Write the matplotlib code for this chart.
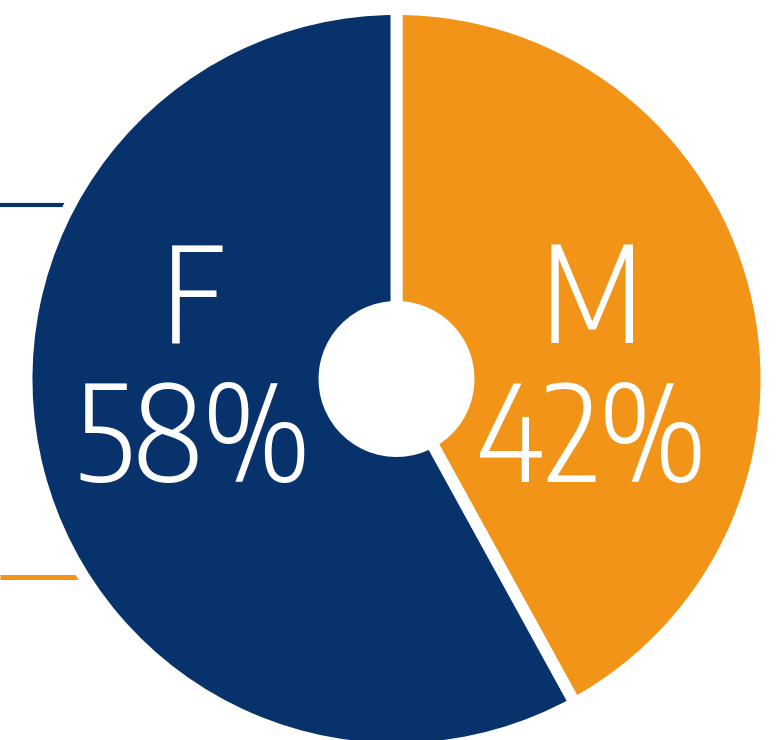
import matplotlib
matplotlib.use("Agg")
import matplotlib.pyplot as plt

categories = ["M", "F"]
values = [42, 58]
labels = ["42%", "58%"]
colors = ["#F29418", "#08326C"]
line_colors = ["#08326C", "#F29418"]

W, H = 778, 740
fig = plt.figure(figsize=(W / 100, H / 100), dpi=100)
ax = fig.add_axes([0, 0, 1, 1])

cx, cy = 396.5, H - 379
R = 370
hole = 72

# decorative lines on the left, partly hidden behind the donut
ax.plot([0, 200], [H - 205, H - 205], color=line_colors[0], lw=3.0, solid_capstyle="butt", zorder=1)
ax.plot([0, 200], [H - 577, H - 577], color=line_colors[1], lw=3.6, solid_capstyle="butt", zorder=1)

wedges, _ = ax.pie(values, colors=colors, startangle=90, counterclock=False,
                   center=(cx, cy), radius=R,
                   wedgeprops=dict(width=R - hole, edgecolor="white", linewidth=8.6))
for w in wedges:
    w.set_zorder(2)

fam = ["Encode Sans Condensed", "DejaVu Sans"]
kw = dict(color="white", fontsize=95, ha="center", va="baseline", family=fam, weight=300, zorder=3)
ax.text(193, H - 343, categories[1], **kw)
ax.text(193, H - 482, labels[1], **kw)
ax.text(592, H - 343, categories[0], **kw)
ax.text(592, H - 482, labels[0], **kw)

ax.set_xlim(0, W)
ax.set_ylim(0, H)
ax.set_aspect("equal")
ax.axis("off")
fig.savefig("out.png", dpi=100, facecolor="white")
